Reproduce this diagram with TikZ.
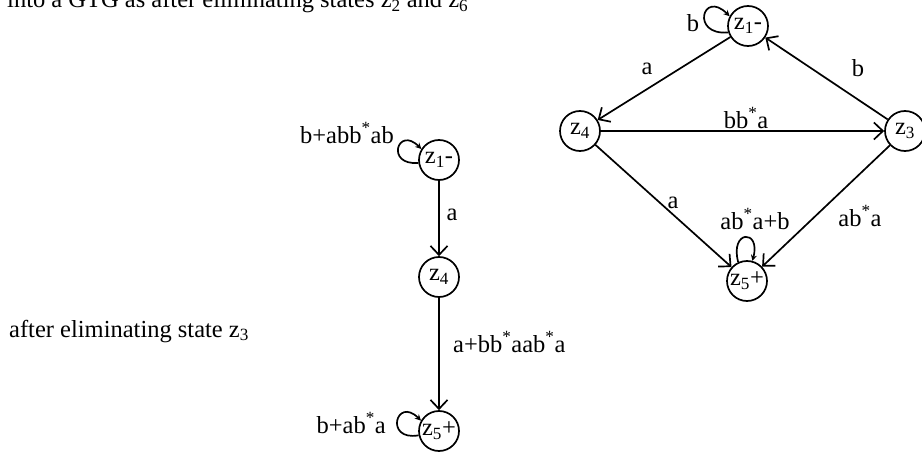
\documentclass[tikz,border=0pt]{standalone}
\usepackage{fontspec}
\setmainfont{Liberation Serif}
\usetikzlibrary{arrows.meta}
\begin{document}
\begin{tikzpicture}[x=1pt,y=1pt,
  font=\fontsize{24.5}{29}\selectfont,
  state/.style={circle,draw,line width=1.7pt,minimum size=40pt,inner sep=0pt},
  trans/.style={line width=1.7pt,-{Straight Barb[length=9pt,width=17pt,line width=1.7pt]}},
  selfloop/.style={line width=1.7pt,-{Stealth[length=6pt,width=6pt]}},
  lbl/.style={inner sep=0pt,anchor=base}]
\useasboundingbox (0,0) rectangle (922,451);
% titles
\node[lbl,anchor=base west] (title) at (7,443) {into a GTG as after eliminating states z\textsubscript{2} and z\textsubscript{6}};
\node[lbl,anchor=base west] (after) at (9,114) {after eliminating state z\textsubscript{3}};
% right graph
\node[state] (rz1) at (748,425) {z\textsubscript{1}-};
\node[state] (rz4) at (580,320) {z\textsubscript{4}};
\node[state] (rz3) at (905,320) {z\textsubscript{3}};
\node[state] (rz5) at (747,170) {z\textsubscript{5}+};
\draw[trans] (rz1) -- (rz4);
\draw[trans] (rz3) -- (rz1);
\draw[trans] (rz4) -- (rz3);
\draw[trans] (rz4) -- (rz5);
\draw[trans] (rz3) -- (rz5);
\draw[selfloop] (rz1.198) to[out=185,in=135,looseness=6] (rz1.152);
\draw[selfloop] (rz5.115) to[out=105,in=75,looseness=6] (rz5.75);
\node[lbl] (lb1) at (693,419) {b};
\node[lbl] (la14) at (647,376) {a};
\node[lbl] (lb31) at (858,374) {b};
\node[lbl] (lbba) at (746,323) {bb\textsuperscript{*}a};
\node[lbl] (la45) at (673,243) {a};
\node[lbl] (laba) at (860,225) {ab\textsuperscript{*}a};
\node[lbl] (labab) at (755,222) {ab\textsuperscript{*}a+b};
% left graph
\node[state] (lz1) at (439,291) {z\textsubscript{1}-};
\node[state] (lz4) at (439,174) {z\textsubscript{4}};
\node[state] (lz5) at (439,20) {z\textsubscript{5}+};
\draw[trans] (lz1) -- (lz4);
\draw[trans] (lz4) -- (lz5);
\draw[selfloop] (lz1.188) to[out=185,in=135,looseness=6] (lz1.148);
\draw[selfloop] (lz5.192) to[out=190,in=135,looseness=6] (lz5.150);
\node[lbl,anchor=base east] (l1loop) at (394,308) {b+abb\textsuperscript{*}ab};
\node[lbl] (l14) at (452,231) {a};
\node[lbl,anchor=base west] (l45) at (453,99) {a+bb\textsuperscript{*}aab\textsuperscript{*}a};
\node[lbl,anchor=base east] (l5loop) at (386,18) {b+ab\textsuperscript{*}a};
\end{tikzpicture}
\end{document}
